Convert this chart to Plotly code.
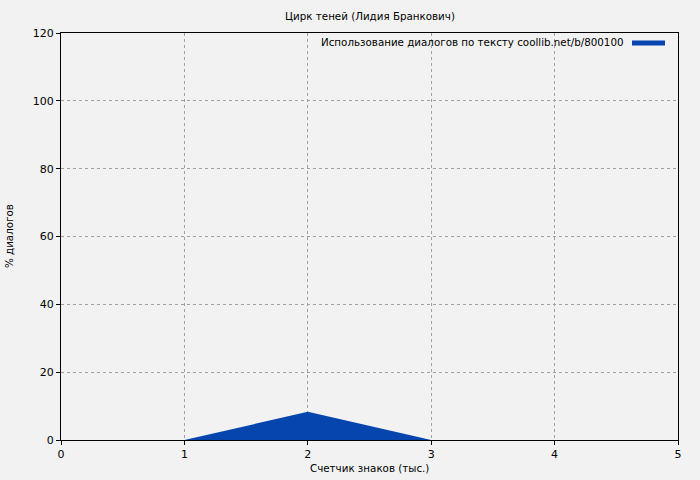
import plotly.graph_objects as go

chars_k = [0, 1, 2, 3, 4, 5]
dialog_pct = [0, 0, 8.3, 0, 0, 0]
series_name = "Использование диалогов по тексту coollib.net/b/800100"
title = "Цирк теней (Лидия Бранкович)"
x_title = "Счетчик знаков (тыс.)"
y_title = "% диалогов"

FONT = "DejaVu Sans"
FILL = "#0645ad"
BG = "#f2f2f2"
TXT = 10.3

fig = go.Figure()
fig.add_trace(go.Scatter(
    x=chars_k, y=dialog_pct, mode="lines", fill="tozeroy",
    fillcolor=FILL, line=dict(width=0, color=FILL), name=series_name,
    showlegend=False, hoverinfo="x+y",
))

axis_common = dict(
    showline=True, linecolor="black", linewidth=1, mirror=True,
    ticks="outside", ticklen=4, tickcolor="black",
    showgrid=True, gridcolor="#a0a0a0", griddash="dot", gridwidth=1,
    zeroline=False, tickfont=dict(family=FONT, size=11, color="black"),
    automargin=False,
)

fig.update_xaxes(range=[0, 5], dtick=1, tick0=0, **axis_common)
fig.update_yaxes(range=[0, 120], dtick=20, tick0=0, **axis_common)

W, H = 700, 480
L, R, T, B = 61, 22, 33, 40
pw, ph = W - L - R, H - T - B

def px_x(x):
    return (x - L) / pw

def px_y(y):
    return (H - B - y) / ph

# axis titles
fig.add_annotation(xref="paper", yref="paper", x=px_x(369), y=px_y(468), xanchor="center", yanchor="middle",
                   text=x_title, showarrow=False, font=dict(family=FONT, size=TXT, color="black"))
fig.add_annotation(xref="paper", yref="paper", x=px_x(9), y=px_y(236), xanchor="center", yanchor="middle",
                   text=y_title, showarrow=False, textangle=-90, font=dict(family=FONT, size=TXT, color="black"))

# legend
fig.add_annotation(xref="paper", yref="paper", x=px_x(626), y=px_y(42), xanchor="right", yanchor="middle",
                   text=series_name, showarrow=False,
                   font=dict(family=FONT, size=TXT, color="black"))
fig.add_shape(type="line", xref="paper", yref="paper", x0=px_x(632), x1=px_x(665), y0=px_y(43), y1=px_y(43),
              line=dict(color=FILL, width=5))

fig.update_layout(
    width=W, height=H,
    paper_bgcolor=BG, plot_bgcolor=BG,
    margin=dict(l=L, r=R, t=T, b=B, autoexpand=False),
    title=dict(text=title, x=370 / W, xanchor="center", y=1 - 16 / H, yanchor="middle",
               font=dict(family=FONT, size=TXT, color="black")),
    font=dict(family=FONT, size=11, color="black"),
)

fig.write_html("out.html", config={"displayModeBar": False},
               post_script="document.body.style.margin='0';document.body.style.background='#f2f2f2';")
